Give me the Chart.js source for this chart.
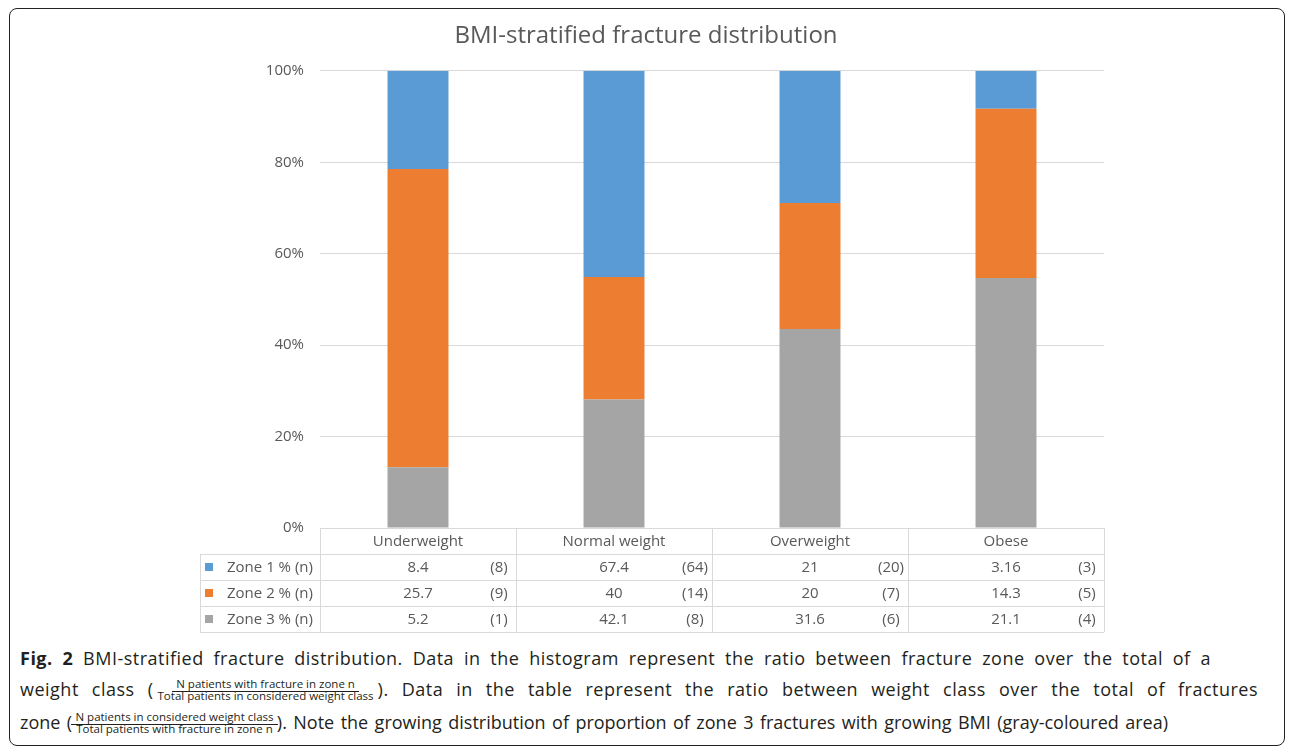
<!DOCTYPE html>
<html>
<head>
<meta charset="utf-8">
<script src="https://cdn.jsdelivr.net/npm/chart.js@4"></script>
<style>
  html, body { margin: 0; padding: 0; background: #fff; }
  body { width: 1292px; height: 751px; position: relative; overflow: hidden; font-family: "Open Sans", sans-serif; }
  #frame { position: absolute; left: 9px; top: 8px; width: 1274px; height: 736px; border: 1.5px solid #222; border-radius: 8px; }
  #chartBox { position: absolute; left: 0; top: 0; width: 1292px; height: 640px; }
  .cap { position: absolute; left: 20px; font-size: 18px; line-height: 20px; color: #231f20; white-space: nowrap;
         letter-spacing: 0.5px; text-align: justify; text-align-last: justify; }
  .cap b { font-weight: 700; }
  #cap3 { letter-spacing: 0; }
  .frac { display: inline-block; position: relative; font-size: 11.5px; line-height: 12px; letter-spacing: 0;
          vertical-align: -4px; margin: 0 4px; }
  .frac .num { position: absolute; left: -10px; right: -10px; bottom: 100%; text-align: center; text-align-last: center; }
  .frac .num span { border-bottom: 1px solid #231f20; padding: 0 4px; }
</style>
</head>
<body>
<div id="frame"></div>
<div id="chartBox"><canvas id="bmiChart" width="1292" height="640"></canvas></div>

<div class="cap" id="cap1" style="top:648px; width:1191px;"><b>Fig. 2</b> BMI-stratified fracture distribution. Data in the histogram represent the ratio between fracture zone over the total of a</div>
<div class="cap" id="cap2" style="top:679px; width:1238px;">weight class (<span class="frac"><span class="num"><span>N patients with fracture in zone n</span></span>Total patients in considered weight class</span>). Data in the table represent the ratio between weight class over the total of fractures</div>
<div class="cap" id="cap3" style="top:712px; width:1148px;">zone (<span class="frac"><span class="num"><span>N patients in considered weight class</span></span>Total patients with fracture in zone n</span>). Note the growing distribution of proportion of zone 3 fractures with growing BMI (gray-coloured area)</div>

<script>
// categorie e valori (percentuali impilate)
const categories = ['Underweight', 'Normal weight', 'Overweight', 'Obese'];
const zoneLabels = ['Zone 1 % (n)', 'Zone 2 % (n)', 'Zone 3 % (n)'];
const zone1Pct = [21.5, 45.1, 28.9, 8.3];
const zone2Pct = [65.2, 26.8, 27.6, 37.0];
const zone3Pct = [13.3, 28.1, 43.5, 54.7];
const yTicks = [0, 20, 40, 60, 80, 100];

// valori della tabella sotto il grafico
const zone1Table = ['8.4', '67.4', '21', '3.16'];
const zone2Table = ['25.7', '40', '20', '14.3'];
const zone3Table = ['5.2', '42.1', '31.6', '21.1'];
const zone1Count = [8, 64, 20, 3];
const zone2Count = [9, 14, 7, 5];
const zone3Count = [1, 8, 6, 4];

const colors = ['#5B9BD5', '#ED7D31', '#A5A5A5'];
const textColor = '#595959';
const gridColor = '#D9D9D9';

const tableValues = [zone1Table, zone2Table, zone3Table];
const tableCounts = [zone1Count, zone2Count, zone3Count];

// disegna la tabella dati sotto l'asse x
const dataTable = {
    id: 'dataTable',
    afterDraw(chart) {
        const { ctx, chartArea: area, scales: { x } } = chart;
        const colW = (area.right - area.left) / categories.length;
        const rowH = 26;
        const legendLeft = 200;
        const top = area.bottom;

        ctx.save();
        ctx.strokeStyle = gridColor;
        ctx.lineWidth = 1;
        ctx.beginPath();
        ctx.moveTo(area.left, Math.round(top) + 0.5);
        ctx.lineTo(area.right, Math.round(top) + 0.5);
        for (let r = 1; r <= 4; r++) {
            const y = Math.round(top + r * rowH) + 0.5;
            ctx.moveTo(legendLeft, y);
            ctx.lineTo(area.right, y);
        }
        for (let c = 0; c <= categories.length; c++) {
            const xx = Math.round(area.left + c * colW) + 0.5;
            ctx.moveTo(xx, top);
            ctx.lineTo(xx, top + 4 * rowH);
        }
        ctx.moveTo(legendLeft + 0.5, top + rowH);
        ctx.lineTo(legendLeft + 0.5, top + 4 * rowH);
        ctx.stroke();

        ctx.font = '15px "Open Sans"';
        ctx.textBaseline = 'middle';
        ctx.fillStyle = textColor;
        ctx.textAlign = 'center';
        categories.forEach((c, i) => {
            ctx.fillText(c, x.getPixelForValue(i), top + rowH / 2 + 1);
        });

        zoneLabels.forEach((z, r) => {
            const y = top + (r + 1.5) * rowH + 1;
            ctx.fillStyle = colors[r];
            ctx.fillRect(legendLeft + 5, y - 5, 8, 8);
            ctx.fillStyle = textColor;
            ctx.textAlign = 'left';
            ctx.fillText(z, legendLeft + 27, y);
            tableValues[r].forEach((v, i) => {
                ctx.textAlign = 'center';
                ctx.fillText(v, x.getPixelForValue(i), y);
                ctx.fillText('(' + tableCounts[r][i] + ')', area.left + (i + 1) * colW - 17, y);
            });
        });
        ctx.restore();
    }
};

new Chart(document.getElementById('bmiChart'), {
    type: 'bar',
    data: {
        labels: categories,
        datasets: [
            { label: 'Zone 3', data: zone3Pct, backgroundColor: colors[2] },
            { label: 'Zone 2', data: zone2Pct, backgroundColor: colors[1] },
            { label: 'Zone 1', data: zone1Pct, backgroundColor: colors[0] }
        ]
    },
    options: {
        responsive: false,
        devicePixelRatio: 1,
        animation: false,
        events: [],
        datasets: { bar: { categoryPercentage: 1, barPercentage: 0.311, borderWidth: 0 } },
        layout: { padding: { left: 0, right: 0, top: 0, bottom: 112 } },
        plugins: {
            legend: { display: false },
            tooltip: { enabled: false },
            title: {
                display: true,
                text: 'BMI-stratified fracture distribution',
                color: textColor,
                font: { family: '"Open Sans"', size: 24, weight: 'normal' },
                padding: { top: 22, bottom: 20 }
            }
        },
        scales: {
            x: { stacked: true, display: false },
            y: {
                stacked: true,
                min: 0,
                max: 100,
                afterBuildTicks: (scale) => { scale.ticks = yTicks.map(v => ({ value: v })); },
                afterFit: (scale) => { scale.width = 320; },
                border: { display: false },
                grid: { color: gridColor, drawTicks: false },
                ticks: {
                    color: textColor,
                    padding: 16,
                    font: { family: '"Open Sans"', size: 15 },
                    callback: (v) => v + '%'
                }
            },
            // asse vuoto a destra, solo per lasciare il margine
            yRight: {
                position: 'right',
                min: 0,
                max: 100,
                afterFit: (scale) => { scale.width = 188; },
                border: { display: false },
                grid: { display: false },
                ticks: { display: false }
            }
        }
    },
    plugins: [dataTable]
});
</script>
</body>
</html>
